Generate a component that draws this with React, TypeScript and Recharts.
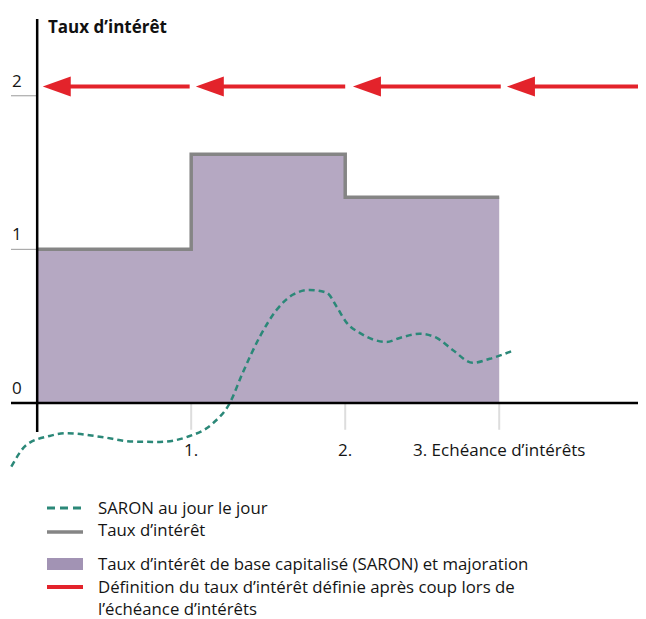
import React from 'react';
import { ComposedChart, Area, Line, XAxis, YAxis, ReferenceLine } from 'recharts';

// ---- data ----
const periodTicks = [1, 2, 3];
const periodLabels = ['1.', '2.', '3. Echéance d’intérêts'];
const yTicks = [0, 1, 2];
const yGridTicks = [1, 2];

const rateX = [0, 1, 2, 3];
const rateY = [1, 1.62, 1.34, 1.34];

const saronX = [-0.168, -0.07, 0.081, 0.19, 0.406, 0.622, 0.795, 0.969, 1.142, 1.25, 1.334, 1.445, 1.555, 1.659, 1.769, 1.88, 1.945, 2.01, 2.094, 2.269, 2.354, 2.484, 2.594, 2.698, 2.828, 2.938, 3.101];
const saronY = [-0.415, -0.274, -0.215, -0.197, -0.22, -0.252, -0.254, -0.223, -0.132, -0.002, 0.195, 0.43, 0.606, 0.704, 0.736, 0.717, 0.625, 0.521, 0.456, 0.397, 0.423, 0.45, 0.423, 0.345, 0.261, 0.287, 0.345];

const arrowTips = [0.036, 1.03, 2.05, 3.05];
const arrowTails = [0.99, 2.0, 3.01, 3.94];
const arrowLevel = 2.06;

const legendItems = [
  'SARON au jour le jour',
  'Taux d’intérêt',
  'Taux d’intérêt de base capitalisé (SARON) et majoration',
  'Définition du taux d’intérêt définie après coup lors de',
  'l’échéance d’intérêts',
];

// ---- domains ----
const X_MIN = -0.17;
const X_MAX = 3.94;
const Y_MIN = -0.45;
const Y_MAX = 2.5;
const Y_AXIS_BOTTOM = -0.19;
const TICK_BOTTOM = -0.175;

const rateData = rateX.map((x, i) => ({ x, r: rateY[i] }));
const saronData = saronX.map((x, i) => ({ x, s: saronY[i] }));

const FONT = '"Open Sans", sans-serif';
const RED = '#E3232B';
const TEAL = '#2B8878';
const GREY = '#858585';
const PURPLE = '#B5A8C2';
const TEXT = '#141414';

const ArrowShape = (p: any) => {
  const { x1, y1, x2 } = p;
  const tip = Math.min(x1, x2);
  const tail = Math.max(x1, x2);
  const y = y1;
  return (
    <g>
      <line x1={tip + 20} y1={y} x2={tail} y2={y} stroke={RED} strokeWidth={4} />
      <polygon points={`${tip},${y} ${tip + 28},${y - 10} ${tip + 28},${y + 10}`} fill={RED} />
    </g>
  );
};

export default function App() {
  return (
    <div style={{ position: 'relative', width: 638, height: 611, fontFamily: FONT }}>
      <ComposedChart
        width={638}
        height={480}
        margin={{ top: 11, right: 2, bottom: 16, left: 3 }}
      >
        <XAxis dataKey="x" type="number" domain={[X_MIN, X_MAX]} hide allowDataOverflow={false} />
        <YAxis
          type="number"
          domain={[Y_MIN, Y_MAX]}
          ticks={yTicks}
          mirror
          axisLine={false}
          tickLine={false}
          tickSize={0}
          tickMargin={1}
          tick={{ fill: TEXT, fontSize: 17, fontFamily: FONT, dy: -15 }}
        />
        <Area
          data={rateData}
          dataKey="r"
          type="stepAfter"
          baseValue={0}
          fill={PURPLE}
          fillOpacity={1}
          stroke={GREY}
          strokeWidth={3.5}
          isAnimationActive={false}
        />
        <Line
          data={saronData}
          dataKey="s"
          type="monotone"
          stroke={TEAL}
          strokeWidth={2.5}
          strokeDasharray="6 4"
          dot={false}
          isAnimationActive={false}
        />
        {yGridTicks.map((t) => (
          <ReferenceLine
            key={'yg' + t}
            segment={[{ x: X_MIN, y: t }, { x: 0, y: t }]}
            stroke="#9a9a9a"
            strokeWidth={1}
          />
        ))}
        {periodTicks.map((t, i) => (
          <ReferenceLine
            key={'xt' + t}
            segment={[{ x: t, y: 0 }, { x: t, y: TICK_BOTTOM }]}
            stroke="#dddddd"
            strokeWidth={2}
            label={{ value: periodLabels[i], position: 'bottom', offset: 14, fill: TEXT, fontSize: 17, fontFamily: FONT }}
          />
        ))}
        <ReferenceLine y={0} stroke="#000" strokeWidth={2.5} />
        <ReferenceLine segment={[{ x: 0, y: Y_AXIS_BOTTOM }, { x: 0, y: Y_MAX }]} stroke="#000" strokeWidth={2.5} />
        {arrowTips.map((tip, i) => (
          <ReferenceLine
            key={'ar' + i}
            segment={[{ x: tip, y: arrowLevel }, { x: arrowTails[i], y: arrowLevel }]}
            shape={ArrowShape}
          />
        ))}
      </ComposedChart>

      <div style={{ position: 'absolute', left: 40, top: 8, fontWeight: 700, fontSize: 17, lineHeight: '22px', color: '#111', whiteSpace: 'nowrap' }}>
        Taux d’intérêt
      </div>

      <div style={{ position: 'absolute', left: 0, top: 0, fontSize: 16.8, color: TEXT }}>
        <svg style={{ position: 'absolute', left: 39, top: 495 }} width={36} height={10}>
          <line x1={0} y1={5} x2={36} y2={5} stroke={TEAL} strokeWidth={3} strokeDasharray="8 5" />
        </svg>
        <div style={{ position: 'absolute', left: 90, top: 489, lineHeight: '22px', whiteSpace: 'nowrap' }}>{legendItems[0]}</div>

        <svg style={{ position: 'absolute', left: 39, top: 519 }} width={36} height={10}>
          <line x1={0} y1={5} x2={36} y2={5} stroke={GREY} strokeWidth={3.5} />
        </svg>
        <div style={{ position: 'absolute', left: 90, top: 511, lineHeight: '22px', whiteSpace: 'nowrap' }}>{legendItems[1]}</div>

        <svg style={{ position: 'absolute', left: 39, top: 550 }} width={36} height={12}>
          <rect x={0} y={0} width={36} height={12} fill="#A293B4" />
        </svg>
        <div style={{ position: 'absolute', left: 90, top: 545, lineHeight: '22px', whiteSpace: 'nowrap' }}>{legendItems[2]}</div>

        <svg style={{ position: 'absolute', left: 39, top: 574 }} width={36} height={10}>
          <line x1={0} y1={5} x2={36} y2={5} stroke={RED} strokeWidth={4} />
        </svg>
        <div style={{ position: 'absolute', left: 90, top: 568, lineHeight: '22px', whiteSpace: 'nowrap' }}>{legendItems[3]}</div>
        <div style={{ position: 'absolute', left: 90, top: 590, lineHeight: '22px', whiteSpace: 'nowrap' }}>{legendItems[4]}</div>
      </div>
    </div>
  );
}
